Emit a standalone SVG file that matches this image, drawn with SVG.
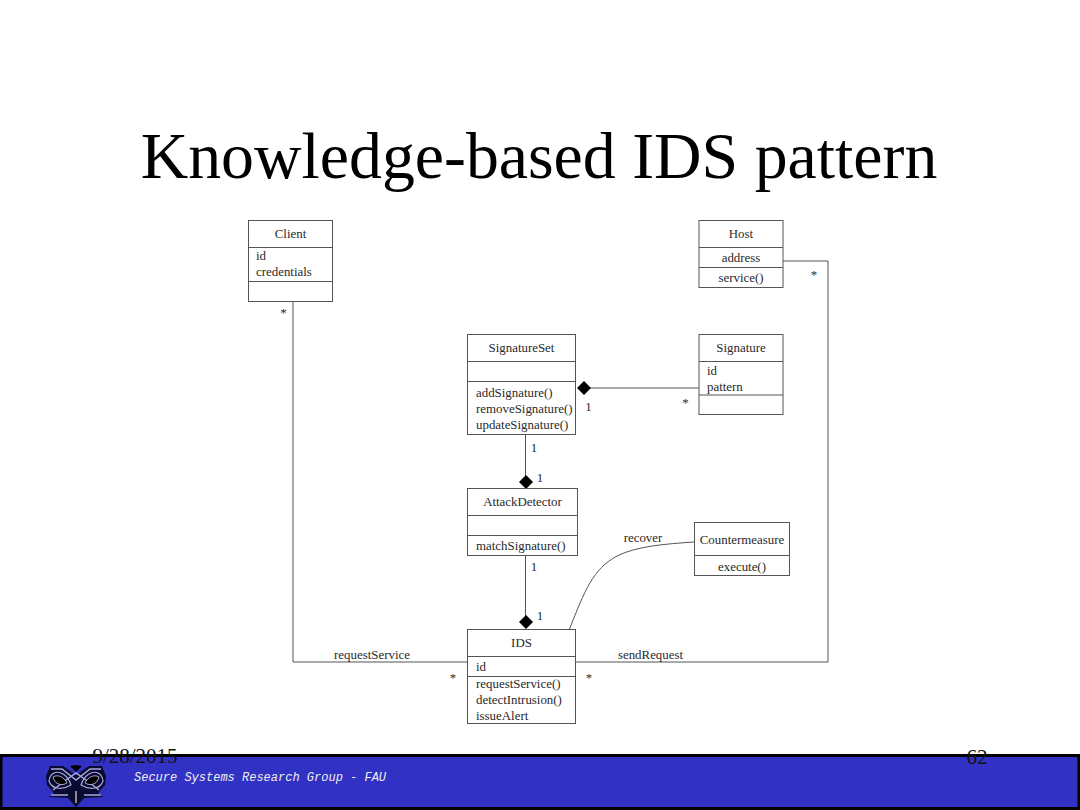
<svg xmlns="http://www.w3.org/2000/svg" width="1080" height="810" viewBox="0 0 1080 810">
<style>
text{font-family:"Liberation Serif","Times New Roman",serif;fill:#2a2a2a;font-size:12.9px}
.m{text-anchor:middle}
.b{fill:#fff;stroke:#555;stroke-width:1}
.l{fill:none;stroke:#555;stroke-width:1}
.d{fill:#000}
</style>
<rect width="1080" height="810" fill="#fff"/>
<text x="539" y="178" class="m" style="font-size:65.8px;fill:#000">Knowledge-based IDS pattern</text>
<g id="connectors">
<path class="l" d="M293 301V662H468"/>
<path class="l" d="M783 261H828V662H576"/>
<path class="l" d="M590 388H699"/>
<path class="l" d="M525.500 435V476"/>
<path class="l" d="M525.500 555V616"/>
<path class="l" d="M569.500 629C585 590 593 569 617 556C637 546 665 544 694 542"/>
<path class="d" d="M577 388L584 381L591 388L584 395Z"/>
<path class="d" d="M519 482L526 475L533 482L526 489Z"/>
<path class="d" d="M519 622L526 615L533 622L526 629Z"/>
<text x="283.500" y="317" class="m">*</text>
<text x="814" y="279" class="m">*</text>
<text x="588.500" y="411" class="m">1</text>
<text x="685.500" y="407" class="m">*</text>
<text x="534" y="452" class="m">1</text>
<text x="540" y="482" class="m">1</text>
<text x="534" y="571" class="m">1</text>
<text x="540" y="620" class="m">1</text>
<text x="643" y="542" class="m">recover</text>
<text x="372" y="659" class="m">requestService</text>
<text x="650.500" y="659" class="m">sendRequest</text>
<text x="453" y="682" class="m">*</text>
<text x="589" y="682" class="m">*</text>
</g>
<g id="client"><rect class="b" x="248.500" y="220.500" width="84" height="81"/><path class="l" d="M248.500 247.500H332.500M248.500 281.500H332.500"/><text x="290.500" y="238" class="m">Client</text><text x="256" y="260">id</text><text x="256" y="276">credentials</text></g>
<g id="host"><rect class="b" x="699" y="220.500" width="84" height="67"/><path class="l" d="M699 247.500H783M699 267.500H783"/><text x="741" y="238" class="m">Host</text><text x="741" y="262" class="m">address</text><text x="741" y="282" class="m">service()</text></g>
<g id="signatureset"><rect class="b" x="467.500" y="334.500" width="108" height="100"/><path class="l" d="M467.500 361.500H575.500M467.500 381.500H575.500"/><text x="521.500" y="352" class="m">SignatureSet</text><text x="476" y="397">addSignature()</text><text x="476" y="413">removeSignature()</text><text x="476" y="429">updateSignature()</text></g>
<g id="signature"><rect class="b" x="699" y="334.500" width="84" height="80"/><path class="l" d="M699 361.500H783M699 395H783"/><text x="741" y="352" class="m">Signature</text><text x="707" y="375">id</text><text x="707" y="391">pattern</text></g>
<g id="attackdetector"><rect class="b" x="467.500" y="488.500" width="110" height="67"/><path class="l" d="M467.500 515.500H577.500M467.500 535.500H577.500"/><text x="522.500" y="506" class="m">AttackDetector</text><text x="476" y="550">matchSignature()</text></g>
<g id="countermeasure"><rect class="b" x="694.500" y="522.500" width="95" height="53"/><path class="l" d="M694.500 555.500H789.500"/><text x="742" y="544" class="m">Countermeasure</text><text x="742" y="571" class="m">execute()</text></g>
<g id="ids"><rect class="b" x="467.500" y="629.500" width="108" height="94"/><path class="l" d="M467.500 656.500H575.500M467.500 676.500H575.500"/><text x="521.500" y="647" class="m">IDS</text><text x="476" y="671">id</text><text x="476" y="688">requestService()</text><text x="476" y="704">detectIntrusion()</text><text x="476" y="720">issueAlert</text></g>
<g id="footer">
<rect x="1" y="755.500" width="1078" height="53" fill="#3131c4" stroke="#000" stroke-width="3"/>
<text x="134" y="781" style="font-family:'Liberation Mono',monospace;font-style:italic;font-size:12px;fill:#eee">Secure Systems Research Group - FAU</text>
<text x="135" y="763" class="m" style="font-size:21px;fill:#111">9/28/2015</text>
<text x="977" y="764" class="m" style="font-size:21px;fill:#111">62</text>
<path d="M50 766H63L76 775L89 766H102L106 776L105 785L98 793L103 797L84 798L76 807L68 798L49 797L54 793L47 785L46 776Z" fill="#0a0a30"/>
<path d="M51 769H62L76 780L90 769H101M53 790L66 780L76 773L86 780L99 790M51 795H68M84 795H101" fill="none" stroke="#a8a8e0" stroke-width="1.500"/>
<path d="M49 781C50 773 56 771 61 773C66 775 69 779 71 785C63 790 52 790 49 781ZM103 781C102 773 96 771 91 773C86 775 83 779 81 785C89 790 100 790 103 781Z" fill="none" stroke="#a8a8e0" stroke-width="1.200"/>
<path d="M53 777C58 774 64 777 67 783C62 786 55 785 53 777ZM99 777C94 774 88 777 85 783C90 786 97 785 99 777Z" fill="#000" stroke="#d0d0f0" stroke-width=".8"/>
<path d="M76 765L70 766L76 772L82 766Z" fill="#000"/>
<path d="M76 791V803" stroke="#e0e0e0" stroke-width="1.200"/>
</g>
</svg>
